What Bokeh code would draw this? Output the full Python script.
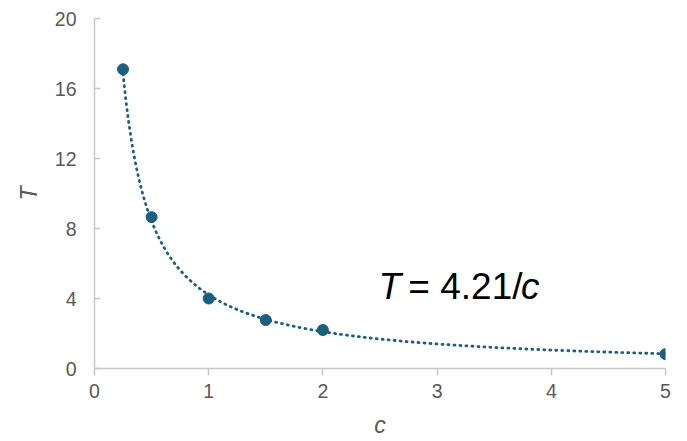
from bokeh.plotting import figure
from bokeh.models import Range1d, FixedTicker, Label
from bokeh.embed import file_html
from bokeh.resources import INLINE

# data
c_values = [0.25, 0.5, 1.0, 1.5, 2.0, 5.0]
T_values = [17.1, 8.65, 4.0, 2.77, 2.2, 0.82]
coef = 4.21  # fitted trendline T = coef / c
x_ticks = [0, 1, 2, 3, 4, 5]
y_ticks = [0, 4, 8, 12, 16, 20]

n = 200
c_fit = [c_values[0] + (c_values[-1] - c_values[0]) * i / (n - 1) for i in range(n)]
T_fit = [coef / c for c in c_fit]

color = "#17607f"
font = "Liberation Sans"

p = figure(width=679, height=433, frame_width=571, frame_height=350,
           output_backend="svg", toolbar_location=None,
           x_range=Range1d(0, 5), y_range=Range1d(0, 20),
           min_border_left=94, min_border_right=14, min_border_top=18, min_border_bottom=65)
p.outline_line_color = None
p.grid.visible = False
p.background_fill_color = "white"
p.border_fill_color = "white"

p.line(c_fit, T_fit, line_color=color, line_width=2.8, line_dash="1 5", line_cap="round")
p.scatter(c_values, T_values, size=11, fill_color=color, line_color=color)

for ax in (p.xaxis[0], p.yaxis[0]):
    ax.axis_line_color = "#c8c8c8"
    ax.axis_line_width = 1.5
    ax.major_tick_line_color = "#c8c8c8"
    ax.major_tick_line_width = 1.5
    ax.minor_tick_line_color = None
    ax.major_label_text_font = font
    ax.major_label_text_font_size = "19.5px"
    ax.major_label_text_color = "#595959"
    ax.axis_label_text_font = font
    ax.axis_label_text_font_size = "23px"
    ax.axis_label_text_font_style = "italic"
    ax.axis_label_text_color = "#595959"

p.xaxis[0].ticker = FixedTicker(ticks=x_ticks)
p.yaxis[0].ticker = FixedTicker(ticks=y_ticks)
p.xaxis[0].major_tick_in = 0
p.xaxis[0].major_tick_out = 7
p.yaxis[0].major_tick_in = 6
p.yaxis[0].major_tick_out = 0
p.xaxis[0].major_label_standoff = 8
p.yaxis[0].major_label_standoff = 18
p.xaxis[0].axis_label = "c"
p.yaxis[0].axis_label = "T"
p.xaxis[0].axis_label_standoff = 11
p.yaxis[0].axis_label_standoff = 10

base_y = 4.686
p.add_layout(Label(x=2.487, y=base_y, text="T", text_font=font, text_font_style="italic",
                   text_font_size="37px", text_color="black", text_baseline="alphabetic"))
p.add_layout(Label(x=2.748, y=base_y, text="= 4.21/", text_font=font,
                   text_font_size="37px", text_color="black", text_baseline="alphabetic"))
p.add_layout(Label(x=3.735, y=base_y, text="c", text_font=font, text_font_style="italic",
                   text_font_size="37px", text_color="black", text_baseline="alphabetic"))

open("out.html", "w").write(file_html(p, INLINE))
